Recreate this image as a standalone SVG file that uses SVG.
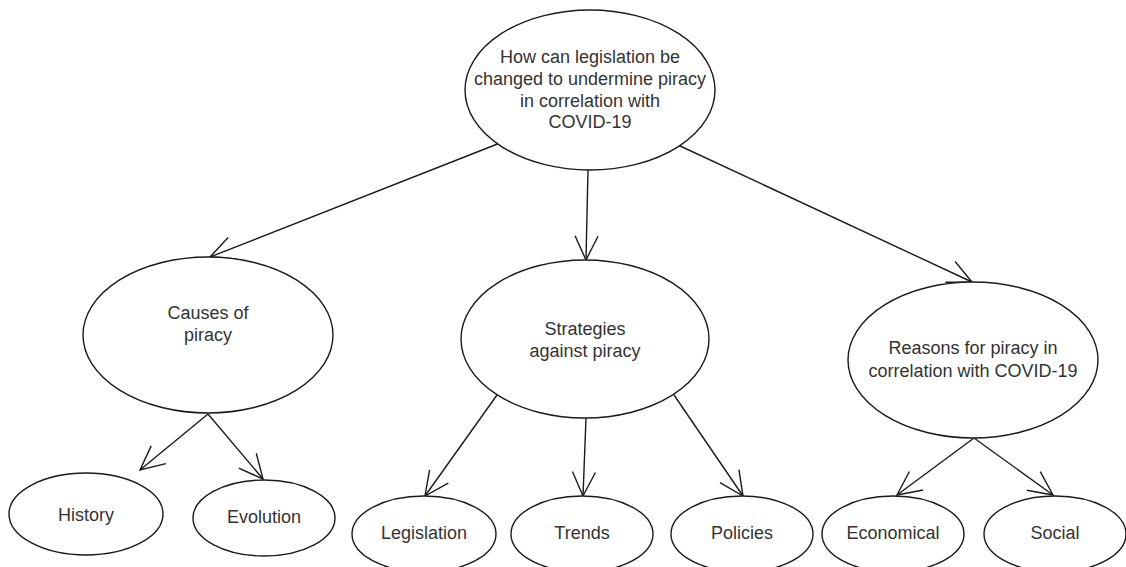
<svg xmlns="http://www.w3.org/2000/svg" width="1126" height="567" viewBox="0 0 1126 567">
<defs>
<style>
.n ellipse{fill:#fff;stroke:#1a1a1a;stroke-width:1.4}
.n text{font-family:"Liberation Sans",Arial,sans-serif;font-size:18px;fill:#333;text-anchor:middle}
.c line{stroke:#1a1a1a;stroke-width:1.4;fill:none;marker-end:url(#open)}
</style>
<marker id="open" markerUnits="userSpaceOnUse" markerWidth="30" markerHeight="30" viewBox="-27 -14 30 28" refX="0" refY="0" orient="auto" overflow="visible">
<path d="M-24,-11.5 L0,0 L-24,11.5" fill="none" stroke="#1a1a1a" stroke-width="1.4"/>
</marker>
</defs>
<rect width="1126" height="567" fill="#fff"/>
<g id="connectors" class="c">
<line x1="500" y1="143" x2="210" y2="257"/>
<line x1="588" y1="170" x2="586" y2="260"/>
<line x1="678" y1="145" x2="972" y2="282"/>
<line x1="208" y1="414" x2="140" y2="470"/>
<line x1="208" y1="414" x2="263" y2="479"/>
<line x1="497" y1="395" x2="425" y2="496"/>
<line x1="586" y1="418" x2="583" y2="496"/>
<line x1="674" y1="395" x2="743" y2="496"/>
<line x1="974" y1="438" x2="897" y2="495"/>
<line x1="974" y1="438" x2="1053" y2="495"/>
</g>
<g id="root" class="n">
<ellipse cx="590" cy="90" rx="125" ry="80"/>
<text x="590" y="63">How can legislation be</text>
<text x="590" y="85">changed to undermine piracy</text>
<text x="590" y="107">in correlation with</text>
<text x="590" y="128">COVID-19</text>
</g>
<g id="causes" class="n">
<ellipse cx="208" cy="335" rx="125" ry="78"/>
<text x="208" y="319">Causes of</text>
<text x="208" y="341">piracy</text>
</g>
<g id="strategies" class="n">
<ellipse cx="585" cy="339" rx="124" ry="79"/>
<text x="585" y="335">Strategies</text>
<text x="585" y="357">against piracy</text>
</g>
<g id="reasons" class="n">
<ellipse cx="973" cy="360" rx="125" ry="78"/>
<text x="973" y="354">Reasons for piracy in</text>
<text x="973" y="377">correlation with COVID-19</text>
</g>
<g id="history" class="n">
<ellipse cx="86" cy="514" rx="77" ry="41"/>
<text x="86" y="521">History</text>
</g>
<g id="evolution" class="n">
<ellipse cx="264" cy="518" rx="71" ry="38"/>
<text x="264" y="523">Evolution</text>
</g>
<g id="legislation" class="n">
<ellipse cx="424" cy="534" rx="72" ry="38"/>
<text x="424" y="539">Legislation</text>
</g>
<g id="trends" class="n">
<ellipse cx="582" cy="534" rx="71" ry="38"/>
<text x="582" y="539">Trends</text>
</g>
<g id="policies" class="n">
<ellipse cx="742" cy="534" rx="71" ry="38"/>
<text x="742" y="539">Policies</text>
</g>
<g id="economical" class="n">
<ellipse cx="893" cy="534" rx="71" ry="38"/>
<text x="893" y="539">Economical</text>
</g>
<g id="social" class="n">
<ellipse cx="1055" cy="534" rx="71" ry="38"/>
<text x="1055" y="539">Social</text>
</g>
</svg>
